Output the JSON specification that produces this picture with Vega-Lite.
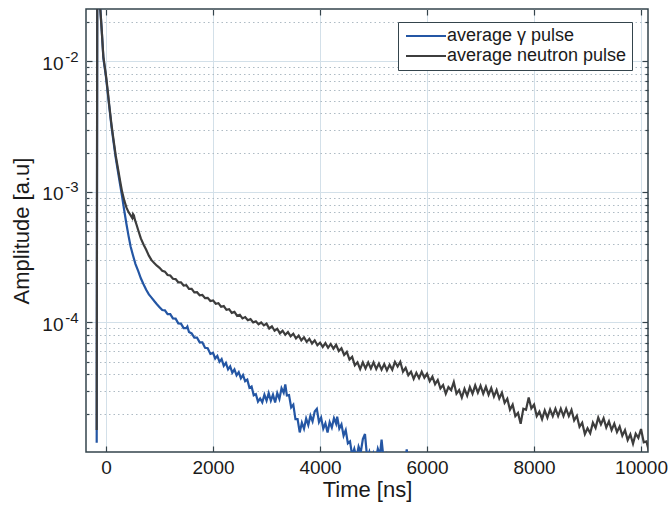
{
"$schema":"https://vega.github.io/schema/vega-lite/v6.json",
"width":562,"height":443,
"autosize":{"type":"none"},
"padding":{"left":86,"top":9,"right":24,"bottom":53},
"background":"white",
"data":{"values":[
{"s":"g","t":-175,"v":1.2e-5},{"s":"g","t":-165,"v":3.0e-2},{"s":"g","t":-140,"v":3.4e-2},{"s":"g","t":-110,"v":2.6e-2},{"s":"g","t":-80,"v":1.7e-2},{"s":"g","t":-50,"v":1.05e-2},{"s":"g","t":-20,"v":8.6e-3},{"s":"g","t":0,"v":7.5e-3},{"s":"g","t":30,"v":5.8e-3},{"s":"g","t":60,"v":4.5e-3},{"s":"g","t":100,"v":3.2e-3},{"s":"g","t":140,"v":2.4e-3},{"s":"g","t":180,"v":1.83e-3},{"s":"g","t":220,"v":1.45e-3},{"s":"g","t":260,"v":1.15e-3},{"s":"g","t":300,"v":9.2e-4},{"s":"g","t":340,"v":7.2e-4},{"s":"g","t":380,"v":5.7e-4},{"s":"g","t":420,"v":4.6e-4},{"s":"g","t":460,"v":3.8e-4},{"s":"g","t":500,"v":3.3e-4},{"s":"g","t":550,"v":2.8e-4},{"s":"g","t":600,"v":2.48e-4},{"s":"g","t":650,"v":2.18e-4},{"s":"g","t":700,"v":1.96e-4},{"s":"g","t":750,"v":1.78e-4},{"s":"g","t":800,"v":1.64e-4},{"s":"g","t":850,"v":1.55e-4},{"s":"g","t":900,"v":1.46e-4},{"s":"g","t":950,"v":1.38e-4},
{"s":"g","t":1000,"v":1.31e-4},{"s":"g","t":1050,"v":1.245e-4},{"s":"g","t":1100,"v":1.24e-4},{"s":"g","t":1150,"v":1.16e-4},{"s":"g","t":1200,"v":1.16e-4},{"s":"g","t":1250,"v":1.075e-4},{"s":"g","t":1300,"v":1.07e-4},{"s":"g","t":1350,"v":9.85e-5},{"s":"g","t":1400,"v":9.8e-5},{"s":"g","t":1450,"v":9.05e-5},{"s":"g","t":1500,"v":9.05e-5},{"s":"g","t":1520,"v":9.3e-5},{"s":"g","t":1550,"v":8.45e-5},{"s":"g","t":1600,"v":8.25e-5},{"s":"g","t":1650,"v":7.65e-5},{"s":"g","t":1700,"v":7.65e-5},{"s":"g","t":1750,"v":7.05e-5},{"s":"g","t":1800,"v":7.05e-5},{"s":"g","t":1850,"v":6.4e-5},{"s":"g","t":1900,"v":6.35e-5},{"s":"g","t":1950,"v":5.75e-5},
{"s":"g","t":2000,"v":5.85e-5},{"s":"g","t":2040,"v":5.3e-5},{"s":"g","t":2080,"v":5.55e-5},{"s":"g","t":2120,"v":5.0e-5},{"s":"g","t":2160,"v":5.25e-5},{"s":"g","t":2200,"v":4.65e-5},{"s":"g","t":2240,"v":4.9e-5},{"s":"g","t":2280,"v":4.38e-5},{"s":"g","t":2320,"v":4.62e-5},{"s":"g","t":2360,"v":4.13e-5},{"s":"g","t":2400,"v":4.37e-5},{"s":"g","t":2440,"v":3.94e-5},{"s":"g","t":2480,"v":4.16e-5},{"s":"g","t":2520,"v":3.74e-5},{"s":"g","t":2560,"v":3.96e-5},{"s":"g","t":2600,"v":3.55e-5},{"s":"g","t":2640,"v":3.65e-5},{"s":"g","t":2680,"v":3.16e-5},{"s":"g","t":2720,"v":3.24e-5},{"s":"g","t":2760,"v":2.77e-5},{"s":"g","t":2800,"v":2.83e-5},{"s":"g","t":2840,"v":2.48e-5},{"s":"g","t":2880,"v":2.62e-5},{"s":"g","t":2920,"v":2.45e-5},{"s":"g","t":2960,"v":2.8e-5},
{"s":"g","t":3000,"v":2.52e-5},{"s":"g","t":3040,"v":2.88e-5},{"s":"g","t":3080,"v":2.52e-5},{"s":"g","t":3120,"v":2.8e-5},{"s":"g","t":3160,"v":2.44e-5},{"s":"g","t":3200,"v":2.88e-5},{"s":"g","t":3240,"v":2.6e-5},{"s":"g","t":3280,"v":3.14e-5},{"s":"g","t":3320,"v":2.9e-5},{"s":"g","t":3350,"v":3.35e-5},{"s":"g","t":3380,"v":2.76e-5},{"s":"g","t":3420,"v":2.78e-5},{"s":"g","t":3460,"v":2.24e-5},{"s":"g","t":3500,"v":2.35e-5},{"s":"g","t":3540,"v":1.82e-5},{"s":"g","t":3580,"v":1.82e-5},{"s":"g","t":3620,"v":1.44e-5},{"s":"g","t":3660,"v":1.71e-5},{"s":"g","t":3700,"v":1.54e-5},{"s":"g","t":3740,"v":1.84e-5},{"s":"g","t":3780,"v":1.64e-5},{"s":"g","t":3820,"v":1.94e-5},{"s":"g","t":3860,"v":1.75e-5},{"s":"g","t":3900,"v":2.08e-5},{"s":"g","t":3940,"v":2.18e-5},{"s":"g","t":3980,"v":1.73e-5},
{"s":"g","t":4020,"v":1.87e-5},{"s":"g","t":4060,"v":1.54e-5},{"s":"g","t":4100,"v":1.69e-5},{"s":"g","t":4140,"v":1.44e-5},{"s":"g","t":4180,"v":1.73e-5},{"s":"g","t":4220,"v":1.57e-5},{"s":"g","t":4260,"v":1.85e-5},{"s":"g","t":4300,"v":1.68e-5},{"s":"g","t":4320,"v":1.9e-5},{"s":"g","t":4360,"v":1.54e-5},{"s":"g","t":4400,"v":1.66e-5},{"s":"g","t":4440,"v":1.36e-5},{"s":"g","t":4480,"v":1.5e-5},{"s":"g","t":4520,"v":1.19e-5},{"s":"g","t":4560,"v":1.23e-5},{"s":"g","t":4600,"v":9.6e-6},{"s":"g","t":4640,"v":1.08e-5},{"s":"g","t":4680,"v":9.2e-6},{"s":"g","t":4720,"v":1.12e-5},{"s":"g","t":4760,"v":1.01e-5},{"s":"g","t":4800,"v":1.28e-5},{"s":"g","t":4840,"v":1.4e-5},{"s":"g","t":4880,"v":9.2e-6},{"s":"g","t":4920,"v":1.02e-5},{"s":"g","t":4960,"v":8.3e-6},
{"s":"g","t":5000,"v":9.9e-6},{"s":"g","t":5040,"v":8.8e-6},{"s":"g","t":5080,"v":1.08e-5},{"s":"g","t":5120,"v":9.7e-6},{"s":"g","t":5150,"v":1.27e-5},{"s":"g","t":5190,"v":8.8e-6},{"s":"g","t":5230,"v":9.7e-6},{"s":"g","t":5270,"v":8.0e-6},{"s":"g","t":5310,"v":9.3e-6},{"s":"g","t":5350,"v":7.8e-6},{"s":"g","t":5390,"v":9.2e-6},{"s":"g","t":5430,"v":7.7e-6},{"s":"g","t":5470,"v":9.2e-6},{"s":"g","t":5510,"v":7.8e-6},{"s":"g","t":5550,"v":9.5e-6},{"s":"g","t":5590,"v":8.4e-6},{"s":"g","t":5620,"v":1.07e-5},{"s":"g","t":5660,"v":7.6e-6},{"s":"g","t":5700,"v":8.6e-6},{"s":"g","t":5740,"v":7.2e-6},{"s":"g","t":5800,"v":7.2e-6},{"s":"g","t":5900,"v":7.0e-6},{"s":"g","t":6000,"v":6.8e-6},
{"s":"n","t":-175,"v":1.5e-5},{"s":"n","t":-165,"v":3.0e-2},{"s":"n","t":-140,"v":3.4e-2},{"s":"n","t":-110,"v":2.6e-2},{"s":"n","t":-80,"v":1.7e-2},{"s":"n","t":-50,"v":1.08e-2},{"s":"n","t":-20,"v":8.8e-3},{"s":"n","t":0,"v":7.7e-3},{"s":"n","t":30,"v":6.0e-3},{"s":"n","t":60,"v":4.6e-3},{"s":"n","t":100,"v":3.3e-3},{"s":"n","t":140,"v":2.5e-3},{"s":"n","t":180,"v":1.9e-3},{"s":"n","t":220,"v":1.53e-3},{"s":"n","t":260,"v":1.23e-3},{"s":"n","t":300,"v":1.0e-3},{"s":"n","t":340,"v":8.6e-4},{"s":"n","t":380,"v":7.6e-4},{"s":"n","t":420,"v":7.0e-4},{"s":"n","t":460,"v":6.6e-4},{"s":"n","t":490,"v":6.3e-4},{"s":"n","t":505,"v":6.75e-4},{"s":"n","t":520,"v":6.6e-4},{"s":"n","t":540,"v":6.1e-4},{"s":"n","t":570,"v":5.6e-4},{"s":"n","t":600,"v":5.1e-4},{"s":"n","t":650,"v":4.4e-4},{"s":"n","t":700,"v":3.95e-4},{"s":"n","t":750,"v":3.6e-4},{"s":"n","t":800,"v":3.25e-4},{"s":"n","t":850,"v":3.0e-4},{"s":"n","t":900,"v":2.85e-4},{"s":"n","t":950,"v":2.72e-4},
{"s":"n","t":1000,"v":2.62e-4},{"s":"n","t":1050,"v":2.49e-4},{"s":"n","t":1100,"v":2.45e-4},{"s":"n","t":1150,"v":2.31e-4},{"s":"n","t":1200,"v":2.29e-4},{"s":"n","t":1250,"v":2.16e-4},{"s":"n","t":1300,"v":2.15e-4},{"s":"n","t":1350,"v":2.03e-4},{"s":"n","t":1400,"v":2.03e-4},{"s":"n","t":1450,"v":1.92e-4},{"s":"n","t":1500,"v":1.93e-4},{"s":"n","t":1550,"v":1.81e-4},{"s":"n","t":1600,"v":1.81e-4},{"s":"n","t":1650,"v":1.70e-4},{"s":"n","t":1700,"v":1.705e-4},{"s":"n","t":1750,"v":1.615e-4},{"s":"n","t":1800,"v":1.625e-4},{"s":"n","t":1850,"v":1.535e-4},{"s":"n","t":1900,"v":1.545e-4},{"s":"n","t":1950,"v":1.46e-4},
{"s":"n","t":2000,"v":1.475e-4},{"s":"n","t":2050,"v":1.39e-4},{"s":"n","t":2100,"v":1.405e-4},{"s":"n","t":2150,"v":1.32e-4},{"s":"n","t":2200,"v":1.335e-4},{"s":"n","t":2250,"v":1.25e-4},{"s":"n","t":2300,"v":1.265e-4},{"s":"n","t":2350,"v":1.185e-4},{"s":"n","t":2400,"v":1.205e-4},{"s":"n","t":2450,"v":1.125e-4},{"s":"n","t":2500,"v":1.145e-4},{"s":"n","t":2550,"v":1.075e-4},{"s":"n","t":2600,"v":1.10e-4},{"s":"n","t":2650,"v":1.04e-4},{"s":"n","t":2700,"v":1.06e-4},{"s":"n","t":2750,"v":1.0e-4},{"s":"n","t":2800,"v":1.02e-4},{"s":"n","t":2850,"v":9.7e-5},{"s":"n","t":2900,"v":1.0e-4},{"s":"n","t":2950,"v":9.5e-5},
{"s":"n","t":3000,"v":9.8e-5},{"s":"n","t":3050,"v":9.0e-5},{"s":"n","t":3100,"v":9.35e-5},{"s":"n","t":3150,"v":8.65e-5},{"s":"n","t":3200,"v":8.95e-5},{"s":"n","t":3250,"v":8.25e-5},{"s":"n","t":3300,"v":8.65e-5},{"s":"n","t":3350,"v":8.05e-5},{"s":"n","t":3400,"v":8.45e-5},{"s":"n","t":3450,"v":7.85e-5},{"s":"n","t":3500,"v":8.2e-5},{"s":"n","t":3550,"v":7.55e-5},{"s":"n","t":3600,"v":7.95e-5},{"s":"n","t":3650,"v":7.3e-5},{"s":"n","t":3700,"v":7.7e-5},{"s":"n","t":3750,"v":7.1e-5},{"s":"n","t":3800,"v":7.5e-5},{"s":"n","t":3850,"v":6.9e-5},{"s":"n","t":3900,"v":7.3e-5},{"s":"n","t":3950,"v":6.7e-5},
{"s":"n","t":4000,"v":7.0e-5},{"s":"n","t":4050,"v":6.5e-5},{"s":"n","t":4100,"v":6.95e-5},{"s":"n","t":4150,"v":6.4e-5},{"s":"n","t":4200,"v":6.85e-5},{"s":"n","t":4250,"v":6.3e-5},{"s":"n","t":4300,"v":6.75e-5},{"s":"n","t":4350,"v":6.05e-5},{"s":"n","t":4400,"v":6.35e-5},{"s":"n","t":4450,"v":5.65e-5},{"s":"n","t":4500,"v":5.95e-5},{"s":"n","t":4550,"v":5.2e-5},{"s":"n","t":4600,"v":5.45e-5},{"s":"n","t":4650,"v":4.7e-5},{"s":"n","t":4700,"v":4.95e-5},{"s":"n","t":4750,"v":4.4e-5},{"s":"n","t":4800,"v":4.95e-5},{"s":"n","t":4850,"v":4.45e-5},{"s":"n","t":4900,"v":4.95e-5},{"s":"n","t":4950,"v":4.45e-5},
{"s":"n","t":5000,"v":4.95e-5},{"s":"n","t":5050,"v":4.4e-5},{"s":"n","t":5100,"v":4.85e-5},{"s":"n","t":5150,"v":4.35e-5},{"s":"n","t":5200,"v":4.8e-5},{"s":"n","t":5250,"v":4.3e-5},{"s":"n","t":5300,"v":4.75e-5},{"s":"n","t":5350,"v":4.35e-5},{"s":"n","t":5400,"v":5.0e-5},{"s":"n","t":5450,"v":4.6e-5},{"s":"n","t":5500,"v":5.0e-5},{"s":"n","t":5550,"v":4.2e-5},{"s":"n","t":5600,"v":4.5e-5},{"s":"n","t":5650,"v":3.95e-5},{"s":"n","t":5700,"v":4.2e-5},{"s":"n","t":5750,"v":3.7e-5},{"s":"n","t":5800,"v":4.12e-5},{"s":"n","t":5850,"v":3.75e-5},{"s":"n","t":5900,"v":4.2e-5},{"s":"n","t":5950,"v":3.78e-5},
{"s":"n","t":6000,"v":4.05e-5},{"s":"n","t":6050,"v":3.55e-5},{"s":"n","t":6100,"v":3.85e-5},{"s":"n","t":6150,"v":3.37e-5},{"s":"n","t":6200,"v":3.63e-5},{"s":"n","t":6250,"v":3.13e-5},{"s":"n","t":6300,"v":3.32e-5},{"s":"n","t":6350,"v":2.85e-5},{"s":"n","t":6400,"v":3.2e-5},{"s":"n","t":6450,"v":3.04e-5},{"s":"n","t":6500,"v":3.5e-5},{"s":"n","t":6550,"v":2.85e-5},{"s":"n","t":6600,"v":3.04e-5},{"s":"n","t":6650,"v":2.66e-5},{"s":"n","t":6700,"v":3.1e-5},{"s":"n","t":6750,"v":2.75e-5},{"s":"n","t":6800,"v":3.2e-5},{"s":"n","t":6850,"v":2.85e-5},{"s":"n","t":6900,"v":3.3e-5},{"s":"n","t":6950,"v":2.9e-5},
{"s":"n","t":7000,"v":3.28e-5},{"s":"n","t":7050,"v":2.85e-5},{"s":"n","t":7100,"v":3.22e-5},{"s":"n","t":7150,"v":2.8e-5},{"s":"n","t":7200,"v":3.15e-5},{"s":"n","t":7250,"v":2.71e-5},{"s":"n","t":7300,"v":3.04e-5},{"s":"n","t":7350,"v":2.62e-5},{"s":"n","t":7400,"v":2.9e-5},{"s":"n","t":7450,"v":2.43e-5},{"s":"n","t":7500,"v":2.61e-5},{"s":"n","t":7550,"v":2.15e-5},{"s":"n","t":7600,"v":2.35e-5},{"s":"n","t":7650,"v":1.92e-5},{"s":"n","t":7700,"v":2.03e-5},{"s":"n","t":7750,"v":1.68e-5},{"s":"n","t":7800,"v":2.19e-5},{"s":"n","t":7850,"v":2.15e-5},{"s":"n","t":7900,"v":2.67e-5},{"s":"n","t":7950,"v":2.2e-5},
{"s":"n","t":8000,"v":2.35e-5},{"s":"n","t":8050,"v":1.92e-5},{"s":"n","t":8100,"v":2.08e-5},{"s":"n","t":8150,"v":1.82e-5},{"s":"n","t":8200,"v":2.12e-5},{"s":"n","t":8250,"v":1.87e-5},{"s":"n","t":8300,"v":2.16e-5},{"s":"n","t":8350,"v":1.92e-5},{"s":"n","t":8400,"v":2.19e-5},{"s":"n","t":8450,"v":1.92e-5},{"s":"n","t":8500,"v":2.19e-5},{"s":"n","t":8550,"v":1.92e-5},{"s":"n","t":8600,"v":2.19e-5},{"s":"n","t":8650,"v":1.92e-5},{"s":"n","t":8700,"v":2.14e-5},{"s":"n","t":8750,"v":1.78e-5},{"s":"n","t":8800,"v":1.93e-5},{"s":"n","t":8850,"v":1.59e-5},{"s":"n","t":8900,"v":1.71e-5},{"s":"n","t":8950,"v":1.4e-5},
{"s":"n","t":9000,"v":1.55e-5},{"s":"n","t":9050,"v":1.42e-5},{"s":"n","t":9100,"v":1.71e-5},{"s":"n","t":9150,"v":1.56e-5},{"s":"n","t":9200,"v":1.87e-5},{"s":"n","t":9250,"v":1.66e-5},{"s":"n","t":9300,"v":1.85e-5},{"s":"n","t":9350,"v":1.57e-5},{"s":"n","t":9400,"v":1.75e-5},{"s":"n","t":9450,"v":1.5e-5},{"s":"n","t":9500,"v":1.68e-5},{"s":"n","t":9550,"v":1.45e-5},{"s":"n","t":9600,"v":1.6e-5},{"s":"n","t":9650,"v":1.36e-5},{"s":"n","t":9700,"v":1.5e-5},{"s":"n","t":9750,"v":1.26e-5},{"s":"n","t":9800,"v":1.39e-5},{"s":"n","t":9850,"v":1.18e-5},{"s":"n","t":9900,"v":1.41e-5},{"s":"n","t":9950,"v":1.31e-5},
{"s":"n","t":10000,"v":1.53e-5},{"s":"n","t":10050,"v":1.21e-5},{"s":"n","t":10100,"v":1.23e-5},{"s":"n","t":10150,"v":1.03e-5}
]},
"layer":[
{"mark":{"type":"point","opacity":0},
 "encoding":{
  "x":{"field":"t","type":"quantitative","scale":{"domain":[-375,10130],"nice":false,"zero":false},
       "axis":{"orient":"top","values":[0,2000,4000,6000,8000,10000],"labels":false,"grid":false,"domain":false,"ticks":true,"tickSize":-6,"tickColor":"#34444c","tickWidth":1.2,"title":null}},
  "y":{"field":"v","type":"quantitative","scale":{"type":"log","domain":[1.02e-5,0.0251],"nice":false},
       "axis":{"orient":"left","values":[2e-5,3e-5,4e-5,5e-5,6e-5,7e-5,8e-5,9e-5,2e-4,3e-4,4e-4,5e-4,6e-4,7e-4,8e-4,9e-4,2e-3,3e-3,4e-3,5e-3,6e-3,7e-3,8e-3,9e-3,2e-2],"labels":false,"grid":true,"gridColor":"#aebbc4","gridDash":[1.5,3],"gridWidth":1,"ticks":true,"tickSize":-3,"tickColor":"#34444c","tickWidth":1.2,"domain":false,"title":null}}}},
{"mark":{"type":"point","opacity":0},
 "encoding":{
  "x":{"field":"t","type":"quantitative","scale":{"domain":[-375,10130],"nice":false,"zero":false},
       "axis":{"orient":"bottom","values":[0,2000,4000,6000,8000,10000],"labels":false,"grid":false,"domain":false,"ticks":true,"tickSize":-6,"tickColor":"#34444c","tickWidth":1.2,"title":null}},
  "y":{"field":"v","type":"quantitative","scale":{"type":"log","domain":[1.02e-5,0.0251],"nice":false},
       "axis":{"orient":"left","values":[1e-4,1e-3,1e-2],"labels":false,"grid":false,"ticks":true,"tickSize":-6,"tickColor":"#34444c","tickWidth":1.2,"domain":false,"title":null}}}},
{"mark":{"type":"point","opacity":0},
 "encoding":{
  "x":{"field":"t","type":"quantitative","scale":{"domain":[-375,10130],"nice":false,"zero":false},"axis":null},
  "y":{"field":"v","type":"quantitative","scale":{"type":"log","domain":[1.02e-5,0.0251],"nice":false},
       "axis":{"orient":"right","values":[1e-4,1e-3,1e-2],"labels":false,"grid":false,"ticks":true,"tickSize":-6,"tickColor":"#34444c","tickWidth":1.2,"domain":false,"title":null}}}},
{"mark":{"type":"point","opacity":0},
 "encoding":{
  "x":{"field":"t","type":"quantitative","scale":{"domain":[-375,10130],"nice":false,"zero":false},"axis":null},
  "y":{"field":"v","type":"quantitative","scale":{"type":"log","domain":[1.02e-5,0.0251],"nice":false},
       "axis":{"orient":"right","values":[2e-5,3e-5,4e-5,5e-5,6e-5,7e-5,8e-5,9e-5,2e-4,3e-4,4e-4,5e-4,6e-4,7e-4,8e-4,9e-4,2e-3,3e-3,4e-3,5e-3,6e-3,7e-3,8e-3,9e-3,2e-2],"labels":false,"grid":false,"ticks":true,"tickSize":-3,"tickColor":"#34444c","tickWidth":1.2,"domain":false,"title":null}}}},
{"mark":{"type":"point","opacity":0},
 "encoding":{
  "x":{"field":"t","type":"quantitative","scale":{"domain":[-375,10130],"nice":false,"zero":false},"axis":null},
  "y":{"field":"v","type":"quantitative","scale":{"type":"log","domain":[1.02e-5,0.0251],"nice":false},
       "axis":{"orient":"left","values":[1e-4,1e-3,1e-2],"labelExpr":"'-' + round(-log(datum.value)/LN10)","labelFontSize":15,"labelPadding":8,"labelOffset":-5,"labelAlign":"right","grid":false,"ticks":false,"domain":false,"title":null}}}},
{"mark":{"type":"line","strokeWidth":2.2,"clip":true},
 "encoding":{
  "x":{"field":"t","type":"quantitative","scale":{"domain":[-375,10130],"nice":false,"zero":false},
       "axis":{"orient":"bottom","values":[0,2000,4000,6000,8000,10000],"format":"d","grid":true,"gridColor":"#d3e0e9","gridWidth":1,"ticks":false,"domain":false,"labelFontSize":19,"labelPadding":6,"labelFlush":false,"labelOverlap":false,"labelBound":false,"title":"Time [ns]","titleFontSize":22,"titlePadding":2}},
  "y":{"field":"v","type":"quantitative","scale":{"type":"log","domain":[1.02e-5,0.0251],"nice":false},
       "axis":{"orient":"left","values":[1e-4,1e-3,1e-2],"labelExpr":"'10'","grid":true,"gridColor":"#d3e0e9","gridWidth":1,"ticks":false,"domain":false,"labelFontSize":19,"labelPadding":23,"labelOffset":2,"labelAlign":"right","title":"Amplitude [a.u]","titleFontSize":22,"titlePadding":8}},
  "color":{"field":"s","type":"nominal","scale":{"domain":["g","n"],"range":["#2456a4","#3d3d3d"]},
       "legend":{"orient":"none","legendX":312,"legendY":13,"title":null,"symbolType":"M-4,0H4","symbolSize":100,"symbolOffset":14,"symbolStrokeWidth":2,"labelOffset":12,"labelLimit":400,"labelFontSize":18,"labelFont":"Liberation Sans","labelColor":"#1a1a1a","fillColor":"white","strokeColor":"#34444c","padding":5,"rowPadding":2,"labelExpr":"datum.label == 'g' ? 'average γ pulse' : 'average neutron pulse'"}}}}
],
"resolve":{"axis":{"x":"independent","y":"independent"}},
"config":{
  "view":{"stroke":"#34444c","strokeWidth":1.5},
  "axis":{"labelFont":"Liberation Sans","titleFont":"Liberation Sans","labelColor":"#1a1a1a","titleColor":"#1a1a1a","titleFontWeight":"normal"},
  "legend":{"labelFont":"Liberation Sans"}
}
}
